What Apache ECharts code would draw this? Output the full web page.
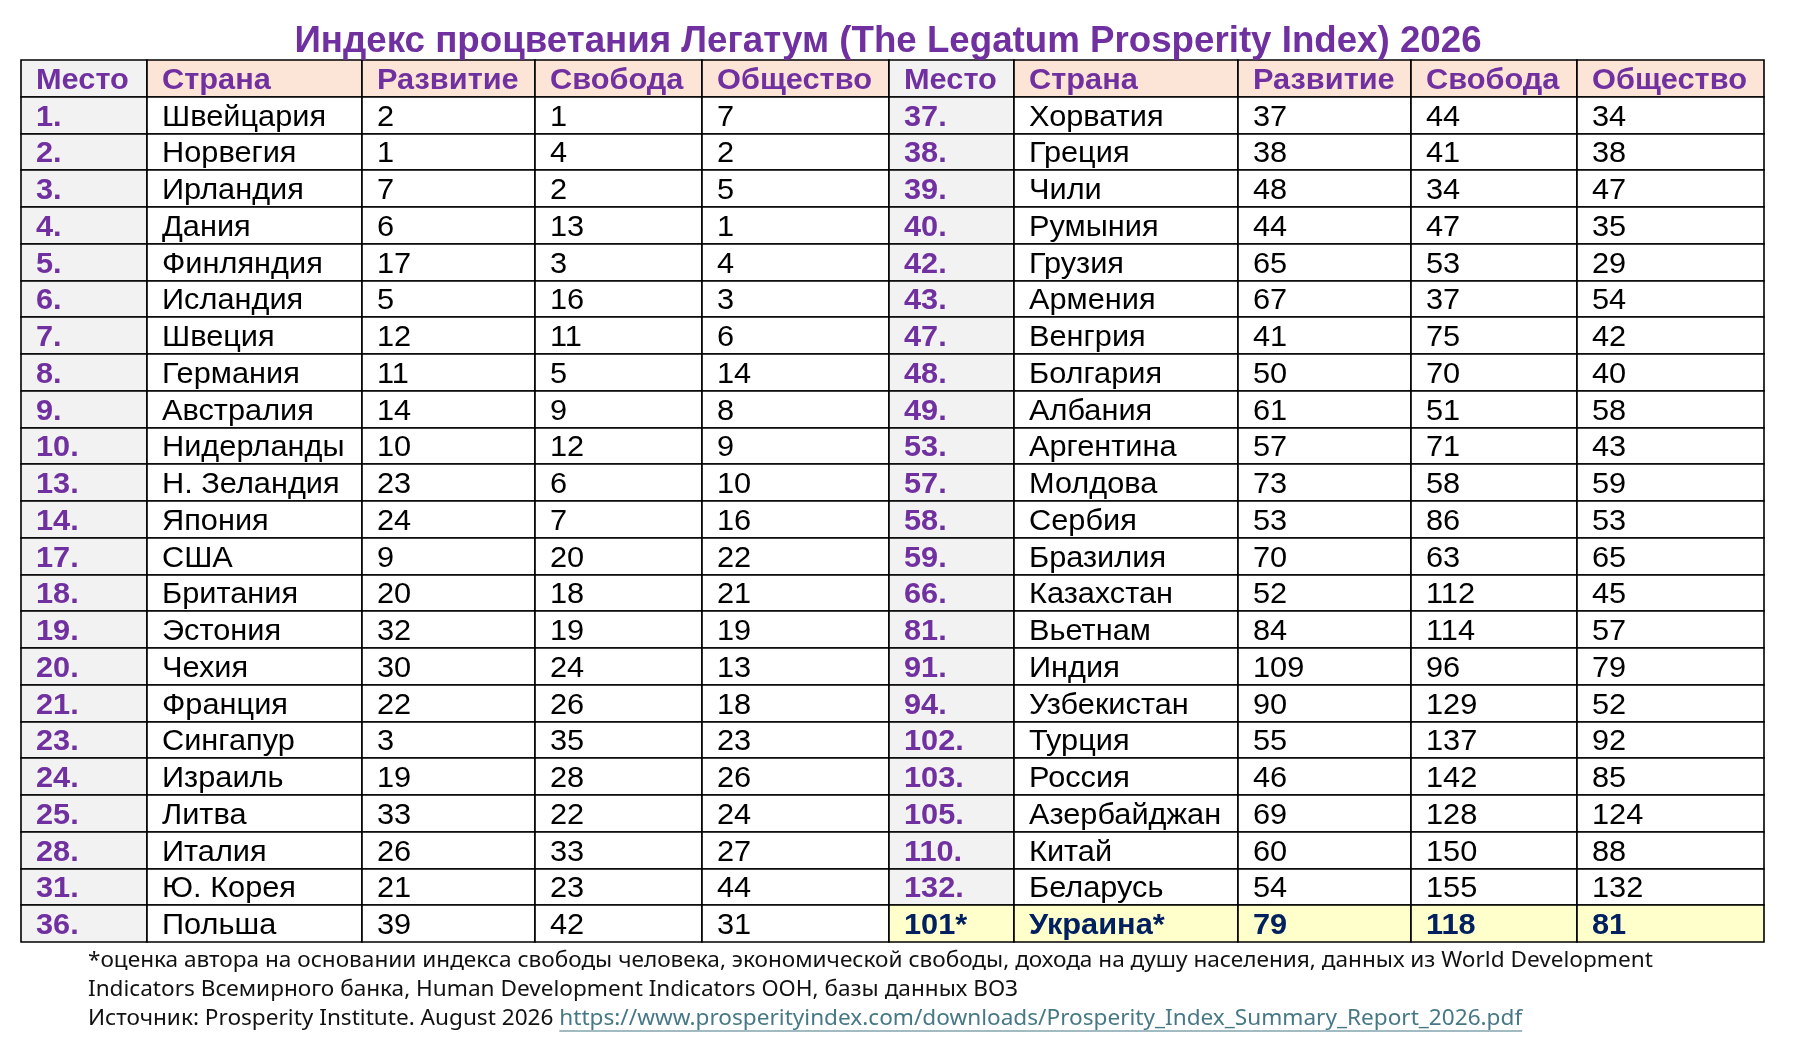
<!DOCTYPE html>
<html><head><meta charset="utf-8">
<script src="https://cdn.jsdelivr.net/npm/echarts@6/dist/echarts.min.js"></script>
<style>html,body{margin:0;padding:0;background:#fff}#c{width:1796px;height:1042px}</style>
</head><body><div id="c"></div>
<script>
// ---------- DATA ----------
const titleText = 'Индекс процветания Легатум (The Legatum Prosperity Index) 2026';
const headers = ['Место', 'Страна', 'Развитие', 'Свобода', 'Общество'];

const places1 = ['1.','2.','3.','4.','5.','6.','7.','8.','9.','10.','13.','14.','17.','18.','19.','20.','21.','23.','24.','25.','28.','31.','36.'];
const countries1 = ['Швейцария','Норвегия','Ирландия','Дания','Финляндия','Исландия','Швеция','Германия','Австралия','Нидерланды','Н. Зеландия','Япония','США','Британия','Эстония','Чехия','Франция','Сингапур','Израиль','Литва','Италия','Ю. Корея','Польша'];
const dev1  = [2,1,7,6,17,5,12,11,14,10,23,24,9,20,32,30,22,3,19,33,26,21,39];
const free1 = [1,4,2,13,3,16,11,5,9,12,6,7,20,18,19,24,26,35,28,22,33,23,42];
const soc1  = [7,2,5,1,4,3,6,14,8,9,10,16,22,21,19,13,18,23,26,24,27,44,31];

const places2 = ['37.','38.','39.','40.','42.','43.','47.','48.','49.','53.','57.','58.','59.','66.','81.','91.','94.','102.','103.','105.','110.','132.','101*'];
const countries2 = ['Хорватия','Греция','Чили','Румыния','Грузия','Армения','Венгрия','Болгария','Албания','Аргентина','Молдова','Сербия','Бразилия','Казахстан','Вьетнам','Индия','Узбекистан','Турция','Россия','Азербайджан','Китай','Беларусь','Украина*'];
const dev2  = [37,38,48,44,65,67,41,50,61,57,73,53,70,52,84,109,90,55,46,69,60,54,79];
const free2 = [44,41,34,47,53,37,75,70,51,71,58,86,63,112,114,96,129,137,142,128,150,155,118];
const soc2  = [34,38,47,35,29,54,42,40,58,43,59,53,65,45,57,79,52,92,85,124,88,132,81];

const highlightCountry = 'Украина*';

const footLine1 = '*оценка автора на основании индекса свободы человека, экономической свободы, дохода на душу населения, данных из World Development';
const footLine2 = 'Indicators Всемирного банка, Human Development Indicators ООН, базы данных ВОЗ';
const footPrefix = 'Источник: Prosperity Institute. August 2026 ';
const footLink = 'https://www.prosperityindex.com/downloads/Prosperity_Index_Summary_Report_2026.pdf';

// ---------- LAYOUT / STYLE ----------
const colWidths = [126, 215.4, 173, 166.5, 187.5, 124.5, 224.5, 173, 166, 187];
const edges = [0];
colWidths.forEach(w => edges.push(edges[edges.length - 1] + w));
const PURPLE = '#7030A0';
const FONT_FAM = '"Liberation Sans", Arial, sans-serif';
const CELL_SCALE_X = 1.06;
const styles = {
  headPlace: { bg: '#F2F2F2', fill: PURPLE, weight: 'bold' },
  head:      { bg: '#FCE4D6', fill: PURPLE, weight: 'bold' },
  place:     { bg: '#F2F2F2', fill: PURPLE, weight: 'bold' },
  text:      { bg: '#FFFFFF', fill: '#000000', weight: 'normal' },
  hl:        { bg: '#FFFFCC', fill: '#002060', weight: 'bold' }
};

// ---------- BUILD CELLS ----------
const cells = [];
for (let c = 0; c < 10; c++) cells.push({ value: [c, 0], text: headers[c % 5], kind: (c % 5 === 0) ? 'headPlace' : 'head' });
function addBlock(offset, places, countries, dev, free, soc) {
  for (let r = 0; r < places.length; r++) {
    const hl = countries[r] === highlightCountry;
    const row = [places[r], countries[r], dev[r], free[r], soc[r]];
    row.forEach((t, k) => {
      cells.push({ value: [offset + k, r + 1], text: String(t), kind: hl ? 'hl' : (k === 0 ? 'place' : 'text') });
    });
  }
}
addBlock(0, places1, countries1, dev1, free1, soc1);
addBlock(5, places2, countries2, dev2, free2, soc2);
const nRows = places1.length + 1;

const chart = echarts.init(document.getElementById('c'), null, { renderer: 'canvas' });

function measure(text, font) {
  const cv = document.createElement('canvas').getContext('2d');
  cv.font = font;
  return cv.measureText(text).width;
}
const FOOT_FONT = 'normal 22.6px "Noto Sans", Roboto, sans-serif';
const footX = 88;
const linkX = footX + measure(footPrefix, FOOT_FONT);
const linkW = measure(footLink, FOOT_FONT);
const footY = [961, 990, 1019];

chart.setOption({
  animation: false,
  title: {
    text: titleText,
    left: 888, textAlign: 'center', top: 23, padding: 0,
    textStyle: { fontFamily: FONT_FAM, fontWeight: 'bold', fontSize: 36.7, color: PURPLE }
  },
  grid: { left: 21, top: 60, width: 1743, height: 882 },
  xAxis: { type: 'value', min: 0, max: edges[10], show: false },
  yAxis: { type: 'value', min: 0, max: nRows, inverse: true, show: false },
  series: [{
    type: 'custom',
    clip: false,
    data: cells,
    renderItem: function (params, api) {
      const cell = cells[params.dataIndex];
      const c = cell.value[0], r = cell.value[1];
      const p0 = api.coord([edges[c], r]);
      const p1 = api.coord([edges[c + 1], r + 1]);
      const x0 = Math.round(p0[0]), y0 = Math.round(p0[1]);
      const x1 = Math.round(p1[0]), y1 = Math.round(p1[1]);
      const st = styles[cell.kind];
      return {
        type: 'group',
        children: [
          { type: 'rect', shape: { x: x0, y: y0, width: x1 - x0, height: y1 - y0 },
            style: { fill: st.bg, stroke: '#000', lineWidth: 1.6 } },
          { type: 'text', x: x0 + 15, y: (y0 + y1) / 2 + 2, scaleX: CELL_SCALE_X,
            style: {
              text: cell.text, x: 0, y: 0,
              align: 'left', verticalAlign: 'middle',
              font: st.weight + ' 29px ' + FONT_FAM, fill: st.fill } }
        ]
      };
    }
  }],
  graphic: [
    { type: 'text', style: { text: footLine1, x: footX, y: footY[0], verticalAlign: 'middle', font: FOOT_FONT, fill: '#111' } },
    { type: 'text', style: { text: footLine2, x: footX, y: footY[1], verticalAlign: 'middle', font: FOOT_FONT, fill: '#111' } },
    { type: 'text', style: { text: footPrefix, x: footX, y: footY[2], verticalAlign: 'middle', font: FOOT_FONT, fill: '#111' } },
    { type: 'text', style: { text: footLink, x: linkX, y: footY[2], verticalAlign: 'middle', font: FOOT_FONT, fill: '#467886' } },
    { type: 'line', shape: { x1: linkX, y1: footY[2] + 12, x2: linkX + linkW, y2: footY[2] + 12 }, style: { stroke: '#467886', lineWidth: 1.2 } }
  ]
});
</script>
</body></html>
